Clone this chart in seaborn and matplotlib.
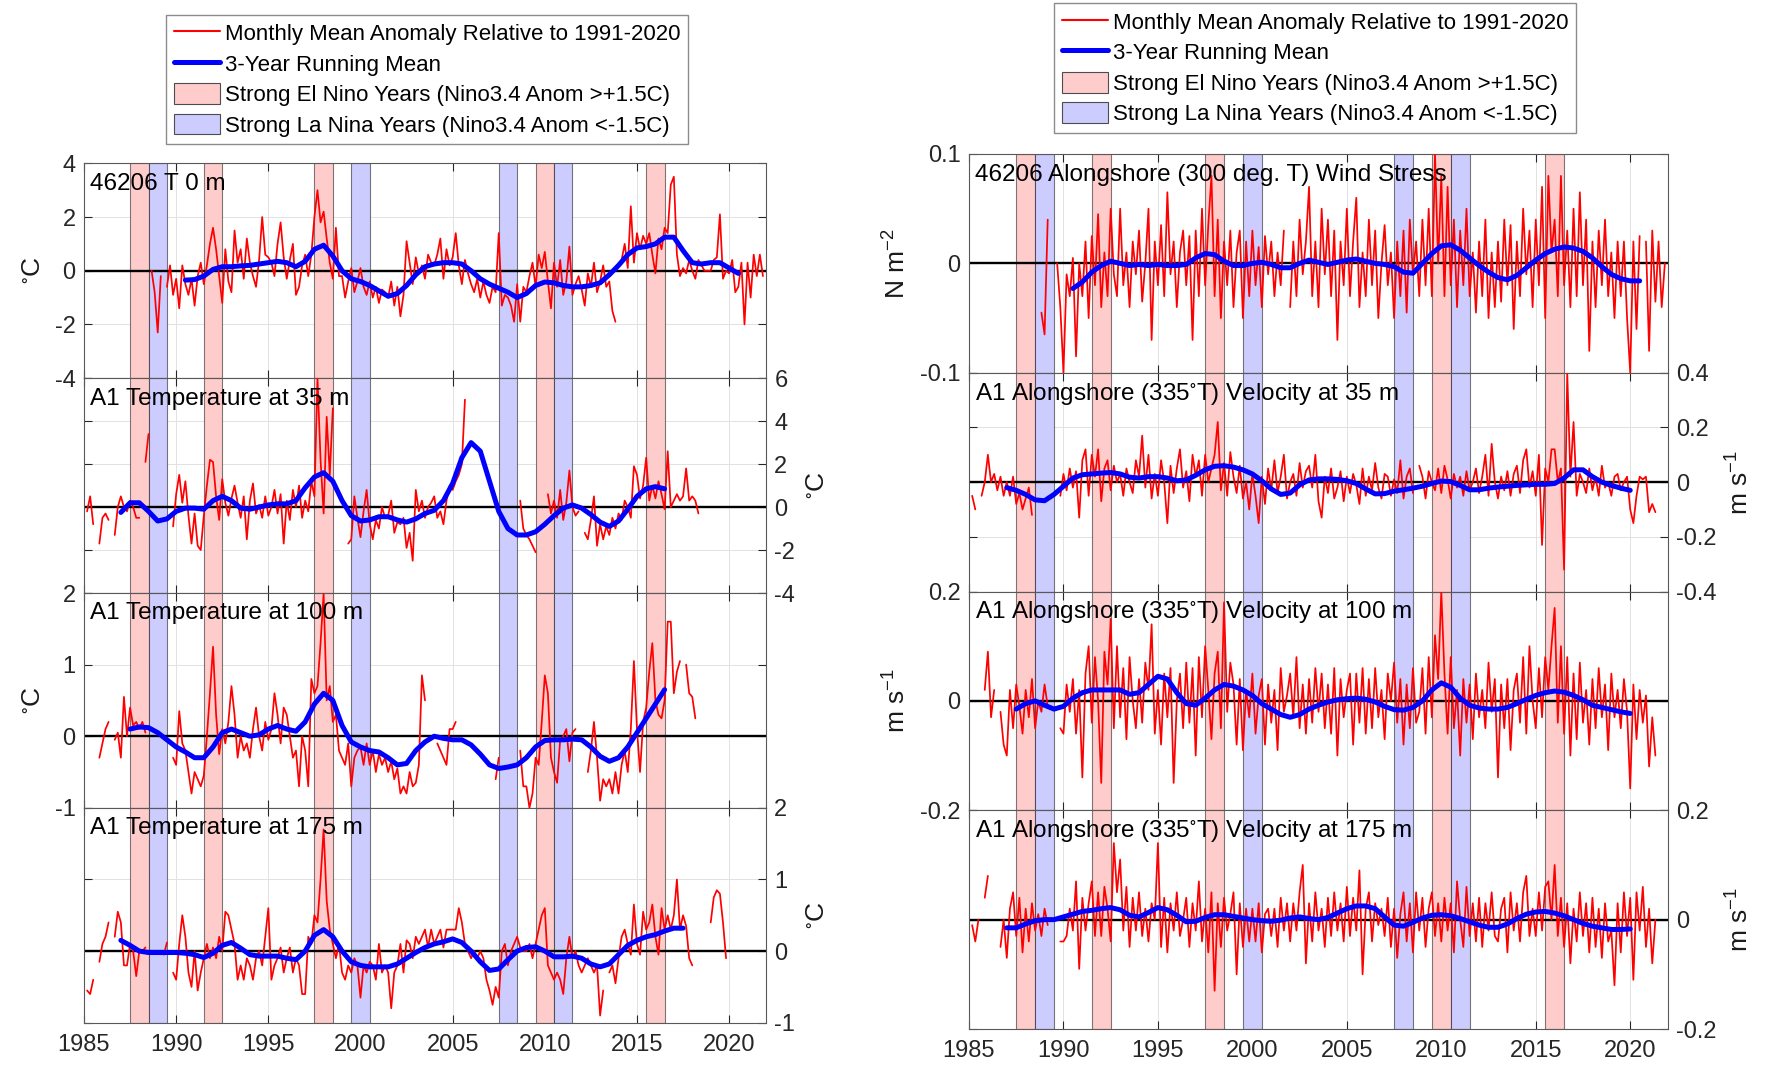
import numpy as np
import matplotlib
matplotlib.use("Agg")
import matplotlib.pyplot as plt
from matplotlib.lines import Line2D
from matplotlib.patches import Patch
import seaborn as sns

N = np.nan

# strong ENSO years (decimal year spans)
el_nino = [(1987.5, 1988.5), (1991.5, 1992.5), (1997.5, 1998.5), (2009.5, 2010.5), (2015.5, 2016.5)]
la_nina = [(1988.5, 1989.5), (1999.5, 2000.5), (2007.5, 2008.5), (2010.5, 2011.5)]

t0_red = [
    [N, N, N, N, N, N], [N, N, N, N, N, N], [N, N, N, N, N, N],
    [N, N, N, N, 0.0, -0.8],
    [-2.3, -0.2, N, -0.6, 0.2, -0.9],
    [-0.3, -1.4, 0.2, -0.5, -0.9, -0.3],
    [-1.3, -0.2, 0.3, -0.5, 0.2, 1.0],
    [1.6, 0.8, -0.2, -1.2, 0.8, -0.4],
    [-0.8, 1.5, 0.3, 0.8, -0.3, 1.2],
    [0.3, -0.2, -0.6, 0.4, 2.0, 0.6],
    [0.5, 0.3, -0.2, 1.0, 1.8, 0.5],
    [-0.3, 0.4, 1.0, -0.9, -0.6, 0.2],
    [0.6, -0.2, 0.6, 2.0, 3.0, 1.8],
    [2.2, 1.2, 0.3, -0.3, 1.6, -0.2],
    [-0.2, -1.0, -0.4, 0.1, -0.8, -0.4],
    [0.1, -0.6, -0.9, -0.4, -1.0, -0.6],
    [-1.2, -0.7, -0.8, -1.0, -0.4, -1.3],
    [-0.6, -1.7, -0.9, 1.1, 0.3, -0.5],
    [0.5, -0.1, 0.2, -0.3, 0.6, 0.3],
    [0.2, 0.6, 1.2, -0.3, 0.8, 0.2],
    [0.5, 1.4, 0.2, -0.5, 0.4, -0.1],
    [-0.5, -0.8, -0.3, -1.0, -0.4, -0.9],
    [-1.2, -0.6, -0.8, 1.4, -1.3, -0.9],
    [-1.0, -1.3, -1.9, -0.5, -1.9, -0.6],
    [-0.8, -0.2, 0.3, -0.6, 0.6, 0.1],
    [0.7, -0.4, -1.4, 0.3, -0.6, 0.4],
    [-0.9, -0.4, 0.9, -0.9, -0.5, -0.2],
    [-0.7, -1.3, -0.1, -0.6, 0.3, -0.8],
    [-0.4, 0.2, -0.6, -0.4, -1.5, -1.9],
    [N, 0.4, 1.0, 0.1, 2.4, 0.3],
    [1.4, 0.8, 1.3, 1.0, 1.4, 0.6],
    [-0.1, 1.2, 0.8, 1.6, 1.4, 3.2],
    [3.5, 0.6, -0.2, 0.1, -0.1, 0.4],
    [0.0, -0.3, 0.4, 0.2, 0.0, 0.0],
    [0.0, 0.4, 0.5, 2.1, -0.3, 0.0],
    [-0.1, 0.4, -0.8, -0.6, 0.3, -2.0],
    [0.3, -1.0, 0.6, -0.2, 0.6, -0.2],
]
t0_blue = [-0.35, -0.33, -0.2, 0.05, 0.15, 0.15, 0.18, 0.2, 0.25, 0.3, 0.35, 0.3, 0.15,
           0.35, 0.8, 0.95, 0.55, 0.0, -0.3, -0.4, -0.55, -0.75, -0.95, -0.85, -0.55,
           -0.15, 0.15, 0.25, 0.3, 0.3, 0.25, 0.0, -0.3, -0.5, -0.65, -0.8, -1.0, -0.85,
           -0.55, -0.42, -0.45, -0.55, -0.6, -0.6, -0.55, -0.45, -0.15, 0.2, 0.6, 0.85,
           0.9, 1.0, 1.25, 1.25, 0.75, 0.3, 0.25, 0.3, 0.3, 0.1, -0.1]

t35_red = [
    [N, -0.2, 0.5, -0.8, N, -1.7],
    [-0.5, -0.3, -0.6, N, -1.3, 0.0],
    [0.5, 0.0, -0.2, 0.3, 0.0, -0.5],
    [-0.5, N, 2.1, 3.4, N, N],
    [N, N, N, N, N, -0.9],
    [0.6, 1.5, 0.2, 1.2, -0.4, -1.7],
    [-0.3, -1.8, -2.0, -0.4, 1.0, 2.2],
    [2.1, 0.5, -0.6, 1.3, 0.2, -0.4],
    [0.4, 1.0, 0.2, -0.5, 0.5, -1.5],
    [0.3, 1.1, -0.3, 0.1, -0.5, 0.5],
    [-0.4, 0.0, 0.8, -0.3, 0.6, -1.7],
    [0.3, -0.6, 0.8, 0.0, 1.0, -0.5],
    [0.3, -0.2, 1.2, 0.5, 6.0, 2.2],
    [-0.3, 4.2, 1.5, 4.6, N, N],
    [N, N, -1.7, -1.5, 0.5, -0.5],
    [-1.4, -0.2, 0.8, -0.8, -1.5, -0.6],
    [-1.0, 0.0, -0.5, -0.4, 0.3, -1.2],
    [-0.7, -0.8, -0.5, -1.9, -1.2, -2.5],
    [0.8, -0.2, 0.3, -0.5, 0.0, 0.2],
    [0.5, -0.5, -0.2, -0.8, 0.3, 1.0],
    [0.8, 1.2, 1.5, 2.0, 5.0, N],
    [N, N, N, N, N, N], [N, N, N, N, N, N],
    [N, N, N, N, 0.3, -1.0],
    [-1.3, -1.5, -1.8, -2.1, N, N],
    [N, 0.6, -0.3, 0.3, -0.5, 0.8],
    [-0.6, 0.2, 1.7, 0.0, -0.4, -0.2],
    [N, -1.2, -1.5, -0.6, 0.5, -1.8],
    [-0.8, -1.5, -0.9, -1.3, -0.5, -1.0],
    [-0.3, -0.6, 0.3, 0.0, -0.5, 1.9],
    [1.5, 0.4, 1.0, 2.3, 0.3, 1.0],
    [0.4, 1.2, 0.6, -0.1, 2.6, 0.0],
    [0.3, 0.6, 0.3, 0.5, 1.8, 0.3],
    [0.5, 0.3, -0.3, N, N, N],
    [N, N, N, N, N, N], [N, N, N, N, N, N], [N, N, N, N, N, N],
]
t35_blue = [-0.25, 0.2, 0.2, -0.2, -0.65, -0.55, -0.2, -0.05, -0.05, -0.1, 0.3, 0.5, 0.3,
            -0.05, -0.1, 0.0, 0.1, 0.15, 0.15, 0.3, 0.9, 1.4, 1.6, 1.2, 0.3, -0.4, -0.65,
            -0.6, -0.45, -0.45, -0.6, -0.7, -0.55, -0.3, -0.15, 0.3, 1.1, 2.3, 3.0, 2.6,
            1.2, -0.2, -1.0, -1.3, -1.3, -1.15, -0.8, -0.4, -0.05, 0.1, -0.05, -0.35, -0.7,
            -0.9, -0.65, -0.1, 0.5, 0.85, 0.95, 0.85]

t100_red = [
    [N, N, N, N, N, -0.3],
    [-0.1, 0.1, 0.2, N, -0.05, 0.05],
    [-0.3, 0.55, 0.0, 0.4, 0.15, 0.2],
    [0.1, 0.2, 0.05, N, N, N],
    [N, N, N, N, N, -0.3],
    [-0.4, 0.35, -0.1, -0.2, -0.5, -0.8],
    [-0.5, -0.6, -0.7, -0.55, 0.0, 0.6],
    [1.25, 0.3, -0.25, 0.1, -0.1, 0.2],
    [0.7, 0.3, -0.3, 0.0, -0.2, -0.1],
    [-0.3, 0.1, 0.4, 0.0, -0.2, 0.2],
    [-0.05, 0.1, 0.6, 0.3, -0.1, 0.4],
    [0.3, 0.0, -0.3, -0.2, -0.7, 0.0],
    [-0.2, -0.7, 0.8, 0.6, 0.7, 1.3],
    [2.0, 0.5, 0.7, 0.2, 0.3, -0.2],
    [-0.3, -0.4, -0.1, -0.7, -0.3, -0.2],
    [-0.15, -0.4, -0.1, -0.4, -0.2, -0.5],
    [-0.25, -0.4, -0.3, -0.5, -0.35, -0.6],
    [-0.45, -0.8, -0.7, -0.8, -0.5, -0.7],
    [-0.65, -0.4, 0.85, 0.5, N, N],
    [N, -0.1, -0.2, -0.3, -0.4, 0.1],
    [0.1, 0.2, N, N, N, N],
    [N, N, N, N, N, N],
    [N, N, -0.6, -0.3, N, N],
    [N, N, N, N, -0.2, -0.7],
    [-0.7, -1.0, -0.8, -0.3, -0.4, 0.2],
    [0.85, 0.6, -0.3, -0.5, -0.65, -0.05],
    [0.0, 0.1, -0.35, 0.05, 0.1, N],
    [N, N, -0.5, -0.2, 0.2, -0.3],
    [-0.9, -0.6, -0.7, -0.6, -0.8, -0.5],
    [-0.8, -0.4, -0.2, -0.5, 0.1, 1.05],
    [0.1, -0.5, 0.2, 0.4, 0.9, 1.3],
    [0.5, 0.3, 0.25, 0.5, 1.6, 1.6],
    [0.6, 0.9, 1.05, N, 1.0, 0.6],
    [0.55, 0.25, N, N, N, N],
    [N, N, N, N, N, N], [N, N, N, N, N, N], [N, N, N, N, N, N],
]
t100_blue = [0.1, 0.13, 0.12, 0.05, -0.05, -0.15, -0.22, -0.3, -0.3, -0.15, 0.05, 0.1, 0.05,
             0.0, 0.02, 0.1, 0.15, 0.1, 0.07, 0.2, 0.45, 0.6, 0.5, 0.15, -0.08, -0.15, -0.2,
             -0.22, -0.3, -0.4, -0.38, -0.2, -0.08, 0.0, -0.03, -0.05, -0.05, -0.12, -0.25,
             -0.4, -0.45, -0.43, -0.4, -0.3, -0.15, -0.06, -0.05, -0.05, -0.04, -0.05, -0.15,
             -0.28, -0.35, -0.3, -0.15, 0.05, 0.25, 0.45, 0.65]

t175_red = [
    [N, -0.55, -0.6, -0.4, N, -0.15],
    [0.1, 0.2, 0.4, N, 0.2, 0.55],
    [0.4, -0.2, -0.2, 0.1, 0.0, -0.35],
    [0.0, 0.0, 0.05, N, N, N],
    [N, N, -0.05, 0.12, N, -0.3],
    [-0.4, 0.1, 0.5, 0.2, -0.3, -0.5],
    [0.0, -0.55, -0.3, -0.1, 0.1, -0.1],
    [0.05, -0.1, 0.2, 0.0, 0.55, 0.5],
    [0.3, 0.1, -0.4, -0.2, -0.4, -0.1],
    [-0.2, -0.4, -0.1, 0.0, -0.2, 0.2],
    [0.6, -0.4, -0.2, -0.1, 0.05, -0.3],
    [-0.1, 0.05, -0.3, -0.1, -0.2, -0.6],
    [-0.6, 0.2, 0.1, 0.5, 0.4, 1.0],
    [1.7, 0.7, 0.3, 0.1, -0.1, 0.1],
    [-0.3, -0.4, -0.2, -0.3, -0.1, -0.2],
    [-0.65, -0.2, -0.3, -0.15, -0.2, -0.4],
    [0.1, -0.3, -0.2, -0.3, -0.8, -0.3],
    [-0.2, 0.1, -0.3, 0.15, 0.1, -0.1],
    [0.2, 0.1, 0.2, 0.3, 0.05, 0.3],
    [0.1, 0.2, 0.3, 0.05, 0.3, 0.3],
    [0.3, 0.3, 0.6, 0.4, 0.1, 0.0],
    [-0.1, 0.0, -0.1, 0.0, -0.1, -0.4],
    [-0.55, -0.75, -0.5, -0.65, 0.0, 0.1],
    [-0.2, 0.0, 0.1, 0.2, 0.05, 0.0],
    [0.0, 0.1, -0.1, 0.1, 0.3, 0.5],
    [0.6, -0.2, -0.3, -0.4, -0.3, -0.4],
    [-0.6, -0.1, 0.2, -0.1, 0.0, -0.2],
    [-0.3, -0.2, -0.1, -0.2, -0.3, -0.2],
    [-0.9, -0.55, N, -0.3, -0.2, -0.45],
    [-0.1, 0.2, 0.3, 0.1, -0.05, 0.65],
    [0.1, -0.05, 0.55, 0.3, 0.4, 0.65],
    [0.2, -0.05, 0.6, 0.3, 0.5, 0.3],
    [0.5, 1.0, 0.3, 0.5, 0.35, -0.1],
    [-0.2, N, N, N, N, N],
    [0.4, 0.75, 0.85, 0.8, 0.4, -0.1],
    [N, N, N, N, N, N], [N, N, N, N, N, N],
]
t175_blue = [0.15, 0.08, 0.0, -0.02, -0.02, -0.02, -0.02, -0.03, -0.05, -0.09, -0.03, 0.08,
             0.12, 0.04, -0.05, -0.07, -0.07, -0.07, -0.1, -0.12, 0.0, 0.22, 0.3, 0.2, 0.0,
             -0.15, -0.2, -0.22, -0.22, -0.22, -0.18, -0.1, -0.02, 0.05, 0.1, 0.13, 0.17,
             0.12, 0.0, -0.15, -0.27, -0.25, -0.12, 0.0, 0.05, 0.06, 0.0, -0.08, -0.08, -0.07,
             -0.1, -0.18, -0.22, -0.18, -0.05, 0.08, 0.15, 0.2, 0.23, 0.28, 0.32, 0.32]

tau_red = [
    [N, N, N, N, N, N], [N, N, N, N, N, N], [N, N, N, N, N, N],
    [N, N, N, N, N, -0.045],
    [-0.065, 0.04, N, N, 0.0, -0.04],
    [-0.1, -0.01, -0.03, 0.005, -0.085, 0.0],
    [-0.03, 0.02, -0.05, 0.025, -0.02, 0.045],
    [-0.04, 0.01, -0.03, 0.05, -0.01, -0.03],
    [0.05, -0.02, 0.01, -0.04, 0.02, -0.01],
    [0.03, -0.035, 0.0, 0.05, -0.07, 0.02],
    [-0.02, 0.035, -0.03, 0.065, -0.01, 0.02],
    [-0.04, 0.01, 0.03, -0.02, 0.025, -0.07],
    [0.03, -0.03, 0.05, -0.02, 0.035, 0.08],
    [-0.03, 0.04, -0.05, 0.02, -0.02, 0.03],
    [-0.04, 0.01, 0.03, -0.05, 0.02, -0.03],
    [0.03, -0.02, 0.015, -0.04, 0.025, -0.01],
    [0.02, -0.03, 0.01, -0.02, 0.03, N],
    [-0.04, 0.02, -0.03, 0.04, -0.01, 0.02],
    [0.07, -0.03, 0.02, -0.04, 0.05, -0.01],
    [0.04, -0.03, 0.03, -0.07, 0.02, -0.02],
    [0.05, -0.03, 0.02, 0.06, -0.04, 0.01],
    [-0.03, 0.04, -0.02, 0.03, -0.05, 0.0],
    [0.035, -0.02, 0.01, -0.05, 0.02, -0.03],
    [0.03, -0.045, 0.04, -0.01, 0.02, -0.03],
    [0.04, -0.02, 0.05, -0.03, 0.1, 0.0],
    [0.08, -0.03, 0.07, -0.02, 0.04, -0.04],
    [0.03, -0.02, 0.05, -0.03, 0.01, -0.045],
    [0.02, -0.03, 0.04, -0.05, 0.01, -0.04],
    [0.02, -0.035, 0.04, -0.02, 0.035, -0.06],
    [0.02, -0.03, 0.05, -0.01, 0.03, -0.04],
    [0.04, -0.02, 0.07, -0.05, 0.08, 0.01],
    [0.04, -0.03, 0.08, -0.02, 0.03, -0.04],
    [0.05, -0.03, 0.065, -0.02, 0.04, -0.08],
    [0.02, -0.04, 0.03, -0.02, 0.04, -0.03],
    [0.01, -0.05, 0.02, -0.03, 0.02, -0.05],
    [-0.1, 0.02, -0.06, 0.025, N, 0.02],
    [-0.08, 0.03, -0.035, 0.02, -0.04, 0.0],
]
tau_blue = [-0.023, -0.017, -0.008, -0.002, 0.002, 0.0, -0.002, -0.001, -0.002, -0.001, -0.002,
            -0.002, -0.001, 0.005, 0.009, 0.008, 0.002, -0.002, -0.002, 0.0, 0.001, -0.001,
            -0.004, -0.004, 0.0, 0.003, 0.001, -0.001, 0.001, 0.003, 0.004, 0.002, 0.0, -0.001,
            -0.003, -0.008, -0.009, 0.0, 0.009, 0.016, 0.017, 0.012, 0.005, -0.002, -0.008,
            -0.013, -0.015, -0.011, -0.004, 0.003, 0.009, 0.013, 0.015, 0.014, 0.011, 0.005,
            -0.003, -0.01, -0.014, -0.016, -0.016]

v35_red = [
    [N, -0.05, -0.1, N, -0.05, 0.0],
    [0.1, 0.0, 0.03, -0.03, 0.02, -0.05],
    [0.0, -0.05, 0.02, -0.08, -0.04, -0.1],
    [-0.06, -0.02, -0.12, N, N, N],
    [N, N, N, N, N, -0.05],
    [0.03, -0.03, 0.05, -0.02, 0.04, -0.13],
    [0.08, 0.12, -0.05, 0.1, 0.02, 0.12],
    [-0.07, 0.05, 0.08, -0.03, 0.06, 0.0],
    [0.03, -0.05, 0.05, 0.0, -0.04, 0.08],
    [0.02, 0.17, -0.02, 0.1, -0.06, 0.03],
    [-0.05, 0.08, 0.0, -0.15, 0.06, -0.04],
    [0.05, 0.12, -0.02, 0.04, -0.07, 0.1],
    [0.02, 0.08, -0.05, 0.1, 0.0, 0.05],
    [0.1, 0.22, -0.03, 0.07, -0.05, 0.11],
    [0.02, -0.04, 0.06, -0.06, 0.0, -0.1],
    [0.03, -0.05, -0.15, 0.02, -0.08, 0.05],
    [-0.03, 0.08, -0.04, 0.02, 0.1, -0.06],
    [0.0, 0.03, -0.05, 0.07, -0.02, 0.04],
    [0.06, -0.02, 0.1, -0.07, -0.13, 0.02],
    [-0.04, 0.05, -0.06, -0.02, 0.04, -0.07],
    [0.02, -0.04, 0.03, -0.01, -0.08, 0.05],
    [-0.05, 0.02, -0.03, 0.07, -0.02, -0.06],
    [0.03, 0.02, -0.05, 0.01, -0.04, 0.08],
    [-0.06, 0.02, 0.05, -0.04, N, 0.06],
    [0.02, -0.06, 0.04, 0.0, -0.03, 0.05],
    [-0.04, 0.06, 0.01, -0.06, 0.03, -0.02],
    [0.02, -0.05, 0.04, -0.03, 0.0, 0.05],
    [-0.04, 0.02, 0.1, -0.05, 0.14, 0.0],
    [-0.06, 0.02, -0.03, 0.04, -0.05, 0.03],
    [0.06, -0.04, 0.08, 0.12, -0.02, 0.04],
    [-0.05, 0.1, -0.23, 0.05, 0.0, 0.12],
    [0.12, 0.0, 0.05, -0.32, 0.4, 0.02],
    [0.22, -0.05, 0.03, 0.0, -0.04, 0.05],
    [-0.03, 0.02, -0.05, 0.06, -0.02, 0.0],
    [-0.05, 0.02, 0.03, -0.03, 0.0, 0.02],
    [-0.1, -0.15, -0.05, 0.02, 0.01, 0.02],
    [-0.11, -0.08, -0.11, N, N, N],
]
v35_blue = [-0.02, -0.03, -0.045, -0.065, -0.068, -0.045, -0.015, 0.015, 0.027, 0.03, 0.033,
            0.035, 0.03, 0.018, 0.015, 0.02, 0.02, 0.015, 0.005, 0.008, 0.025, 0.045, 0.058,
            0.06, 0.055, 0.045, 0.03, 0.005, -0.025, -0.045, -0.04, -0.01, 0.008, 0.012, 0.012,
            0.01, 0.005, -0.005, -0.025, -0.043, -0.042, -0.033, -0.028, -0.022, -0.015,
            -0.005, 0.004, 0.002, -0.012, -0.028, -0.028, -0.022, -0.018, -0.015, -0.012,
            -0.01, -0.008, -0.008, -0.005, 0.015, 0.045, 0.045, 0.02, 0.0, -0.012, -0.022, -0.03]

v100_red = [
    [N, N, N, N, N, 0.02],
    [0.09, -0.03, 0.02, N, -0.02, -0.08],
    [-0.1, 0.02, -0.05, 0.03, -0.01, -0.06],
    [0.02, -0.03, 0.04, -0.05, 0.0, -0.02],
    [0.03, -0.01, N, N, N, -0.05],
    [-0.06, 0.03, -0.02, 0.04, -0.06, 0.02],
    [-0.14, 0.05, 0.1, -0.04, 0.08, 0.0],
    [-0.15, 0.09, 0.03, 0.15, -0.05, 0.1],
    [-0.03, 0.06, -0.07, 0.08, 0.0, -0.05],
    [0.04, -0.04, 0.07, 0.02, 0.14, -0.06],
    [0.02, -0.08, 0.05, -0.03, 0.06, -0.15],
    [0.0, 0.05, -0.05, 0.07, -0.04, 0.06],
    [-0.1, 0.08, -0.03, 0.1, 0.02, -0.07],
    [0.05, 0.09, -0.05, 0.18, -0.02, 0.07],
    [0.03, -0.08, 0.04, -0.09, 0.02, -0.03],
    [0.05, -0.06, 0.01, 0.04, -0.08, 0.03],
    [-0.04, 0.02, -0.09, 0.06, -0.02, 0.01],
    [0.05, -0.03, 0.08, -0.05, 0.03, -0.06],
    [0.04, -0.04, 0.06, -0.02, 0.05, -0.05],
    [0.03, -0.06, 0.06, -0.1, 0.04, -0.03],
    [0.02, 0.05, -0.08, 0.05, -0.04, 0.06],
    [-0.06, 0.04, -0.05, 0.06, -0.03, 0.02],
    [-0.07, 0.05, 0.0, 0.07, -0.04, 0.04],
    [-0.08, 0.03, -0.05, 0.06, -0.04, -0.02],
    [0.06, -0.06, 0.08, -0.03, 0.12, 0.04],
    [0.2, 0.05, -0.06, 0.08, -0.05, 0.02],
    [-0.1, 0.04, -0.04, 0.03, -0.07, 0.05],
    [-0.03, 0.02, -0.05, 0.07, -0.02, 0.04],
    [-0.14, 0.03, -0.05, 0.04, -0.09, 0.02],
    [0.05, -0.04, 0.08, -0.06, 0.1, 0.0],
    [-0.05, 0.06, -0.03, 0.08, 0.02, 0.1],
    [0.17, -0.04, 0.1, -0.06, 0.08, -0.1],
    [0.05, -0.07, 0.07, -0.04, 0.02, -0.08],
    [0.04, -0.05, 0.06, -0.03, 0.03, -0.09],
    [0.05, -0.03, 0.02, -0.05, 0.04, -0.02],
    [-0.16, 0.03, -0.07, 0.02, -0.04, 0.01],
    [-0.12, -0.03, -0.1, N, N, N],
]
v100_blue = [-0.015, -0.005, 0.0, -0.008, -0.015, -0.01, 0.005, 0.015, 0.02, 0.02, 0.02, 0.02,
             0.012, 0.015, 0.03, 0.045, 0.04, 0.015, -0.005, -0.008, 0.005, 0.02, 0.03, 0.027,
             0.02, 0.01, -0.005, -0.015, -0.025, -0.03, -0.025, -0.015, -0.008, -0.002, 0.002,
             0.004, 0.005, 0.003, -0.002, -0.01, -0.016, -0.017, -0.012, 0.0, 0.02, 0.033,
             0.025, 0.005, -0.008, -0.013, -0.015, -0.015, -0.012, -0.005, 0.003, 0.01, 0.015,
             0.018, 0.016, 0.01, 0.002, -0.008, -0.012, -0.016, -0.02, -0.023]

v175_red = [
    [N, -0.01, -0.04, 0.0, N, 0.04],
    [0.08, N, -0.02, N, -0.05, 0.0],
    [-0.07, 0.02, 0.05, -0.03, 0.04, -0.06],
    [0.02, -0.04, 0.03, -0.02, 0.01, -0.03],
    [0.02, -0.01, N, N, N, -0.04],
    [-0.04, -0.03, 0.02, -0.02, 0.07, -0.09],
    [0.04, -0.02, 0.03, 0.07, -0.03, 0.05],
    [-0.03, 0.06, 0.02, -0.04, 0.14, 0.05],
    [0.11, -0.02, 0.06, -0.05, 0.04, -0.02],
    [0.05, -0.03, 0.02, -0.04, 0.03, 0.0],
    [0.14, -0.05, 0.04, -0.06, 0.03, -0.02],
    [0.05, -0.03, 0.0, 0.04, -0.05, 0.03],
    [-0.02, 0.07, -0.04, 0.02, -0.06, 0.05],
    [-0.13, 0.03, -0.05, 0.04, -0.02, 0.01],
    [0.05, -0.1, 0.03, -0.05, 0.02, -0.04],
    [0.02, -0.04, 0.03, -0.06, 0.01, 0.02],
    [-0.03, 0.02, -0.05, 0.04, -0.02, 0.03],
    [-0.04, 0.03, -0.02, 0.05, 0.1, -0.08],
    [0.03, -0.04, 0.05, -0.02, 0.02, -0.05],
    [0.04, -0.03, 0.05, -0.02, 0.03, -0.04],
    [0.06, -0.03, 0.04, -0.02, 0.09, -0.1],
    [0.02, 0.05, -0.04, 0.03, -0.01, 0.02],
    [-0.03, 0.04, -0.05, 0.02, -0.07, 0.01],
    [0.05, -0.04, 0.03, -0.06, 0.05, -0.02],
    [0.04, -0.05, 0.02, 0.05, -0.03, 0.03],
    [-0.04, 0.04, -0.02, 0.03, -0.06, 0.07],
    [0.0, -0.05, 0.06, -0.03, 0.03, -0.04],
    [0.04, -0.05, 0.03, -0.02, 0.05, -0.03],
    [-0.04, 0.02, 0.04, -0.06, 0.05, -0.02],
    [0.03, -0.04, 0.05, 0.08, -0.03, 0.02],
    [-0.03, 0.05, -0.02, 0.06, 0.07, 0.0],
    [0.1, -0.03, 0.04, -0.05, 0.03, -0.08],
    [0.02, -0.04, 0.05, -0.03, 0.03, -0.06],
    [0.04, -0.05, 0.02, -0.07, 0.03, -0.04],
    [-0.02, -0.12, 0.03, -0.06, 0.05, -0.03],
    [0.04, -0.11, 0.05, -0.02, 0.06, -0.05],
    [0.02, -0.08, 0.0, N, N, N],
]
v175_blue = [-0.015, -0.015, -0.008, -0.002, 0.0, 0.0, 0.005, 0.01, 0.015, 0.017, 0.02, 0.022,
             0.018, 0.008, 0.005, 0.013, 0.022, 0.018, 0.008, -0.004, -0.003, 0.004, 0.009,
             0.009, 0.006, 0.003, 0.0, -0.002, -0.003, -0.001, 0.003, 0.005, 0.002, 0.0, 0.004,
             0.012, 0.02, 0.025, 0.025, 0.02, 0.005, -0.01, -0.012, -0.005, 0.003, 0.008, 0.009,
             0.007, 0.002, -0.004, -0.01, -0.014, -0.014, -0.008, 0.002, 0.01, 0.014, 0.015,
             0.012, 0.007, 0.0, -0.007, -0.012, -0.015, -0.018, -0.018, -0.017]

# panel labels
left_titles = ["46206 T 0 m", "A1 Temperature at 35 m", "A1 Temperature at 100 m",
               "A1 Temperature at 175 m"]
right_titles = ["46206 Alongshore (300 deg. T) Wind Stress",
                "A1 Alongshore (335$^{\\circ}$T) Velocity at 35 m",
                "A1 Alongshore (335$^{\\circ}$T) Velocity at 100 m",
                "A1 Alongshore (335$^{\\circ}$T) Velocity at 175 m"]
legend_labels = ["Monthly Mean Anomaly Relative to 1991-2020", "3-Year Running Mean",
                 "Strong El Nino Years (Nino3.4 Anom >+1.5C)",
                 "Strong La Nina Years (Nino3.4 Anom <-1.5C)"]

sns.set_style("white")
plt.rcParams["font.family"] = ["Liberation Sans", "DejaVu Sans"]
plt.rcParams["mathtext.fontset"] = "custom"
plt.rcParams["mathtext.rm"] = "Liberation Sans"
plt.rcParams["mathtext.default"] = "regular"
plt.rcParams["axes.unicode_minus"] = False
plt.rcParams["text.color"] = "black"
plt.rcParams["axes.labelcolor"] = "0.1"
plt.rcParams["xtick.color"] = "0.15"
plt.rcParams["ytick.color"] = "0.15"

RED = "#ff0000"
BLUE = "#0000ff"
NINO = "#ffcccc"
NINA = "#ccccff"


def draw_panel(ax, red, blue_x0, blue, ylim, yticks, title, ylabel, right_side, bottom):
    for a, b in el_nino:
        ax.axvspan(a, b, facecolor=NINO, edgecolor=(0, 0, 0, 0.5), lw=0.8, zorder=1)
    for a, b in la_nina:
        ax.axvspan(a, b, facecolor=NINA, edgecolor=(0, 0, 0, 0.5), lw=0.8, zorder=1)
    ax.axhline(0, color="k", lw=1.7, zorder=2.5)
    v = np.array(red, dtype=float).ravel()
    x = 1985 + np.arange(v.size) / 6.0
    ax.plot(x, v, color=RED, lw=1.25, zorder=3)
    bx = blue_x0 + 0.5 * np.arange(len(blue))
    sns.lineplot(x=bx, y=np.array(blue), ax=ax, color=BLUE, linewidth=3.6, sort=False, zorder=4)

    ax.set_xlim(1985, 2022)
    ax.set_ylim(*ylim)
    ax.set_xticks(np.arange(1985, 2021, 5))
    ax.set_yticks(yticks, labels=["{:g}".format(t) for t in yticks])
    ax.grid(True, color="#e2e2e2", lw=0.7)
    ax.set_axisbelow(True)
    for s in ax.spines.values():
        s.set_color("0.35")
        s.set_linewidth(0.8)
    ax.tick_params(direction="in", length=6, width=0.8, labelsize=17,
                   top=True, bottom=True, left=True, right=True,
                   labelbottom=bottom, labelleft=not right_side, labelright=right_side)
    ax.tick_params(axis="y", pad=6)
    ax.tick_params(axis="x", pad=8)
    if right_side:
        ax.yaxis.set_label_position("right")
    ax.set_ylabel(ylabel, fontsize=19, labelpad=7)
    ax.set_xlabel("")
    ax.text(0.009, 0.905, title, transform=ax.transAxes, fontsize=17.5, va="center",
            ha="left", zorder=6)


fig = plt.figure(figsize=(17.67, 10.67), dpi=100)
W, H = 1767.0, 1067.0

left_series = [(t0_red, 1990.5, t0_blue, (-4, 4), [-4, -2, 0, 2, 4]),
               (t35_red, 1987.0, t35_blue, (-4, 6), [-4, -2, 0, 2, 4, 6]),
               (t100_red, 1987.5, t100_blue, (-1, 2), [-1, 0, 1, 2]),
               (t175_red, 1987.0, t175_blue, (-1, 2), [-1, 0, 1, 2])]
right_series = [(tau_red, 1990.5, tau_blue, (-0.1, 0.1), [-0.1, 0, 0.1]),
                (v35_red, 1987.0, v35_blue, (-0.4, 0.4), [-0.4, -0.2, 0, 0.2, 0.4]),
                (v100_red, 1987.5, v100_blue, (-0.2, 0.2), [-0.2, 0, 0.2]),
                (v175_red, 1987.0, v175_blue, (-0.2, 0.2), [-0.2, 0, 0.2])]
left_ylabels = ["$^{\\circ}$C"] * 4
right_ylabels = ["N m$^{-2}$", "m s$^{-1}$", "m s$^{-1}$", "m s$^{-1}$"]

# left column
lx0, lx1, ltop, lh = 84.0, 766.0, 163.3, 214.85
for i, (red, bx0, blue, ylim, yt) in enumerate(left_series):
    top = ltop + i * lh
    ax = fig.add_axes([lx0 / W, 1 - (top + lh) / H, (lx1 - lx0) / W, lh / H])
    draw_panel(ax, red, bx0, blue, ylim, yt, left_titles[i], left_ylabels[i],
               right_side=(i % 2 == 1), bottom=(i == 3))

# right column
rx0, rx1, rtop, rh = 969.0, 1668.0, 154.0, 218.75
for i, (red, bx0, blue, ylim, yt) in enumerate(right_series):
    top = rtop + i * rh
    ax = fig.add_axes([rx0 / W, 1 - (top + rh) / H, (rx1 - rx0) / W, rh / H])
    draw_panel(ax, red, bx0, blue, ylim, yt, right_titles[i], right_ylabels[i],
               right_side=(i % 2 == 1), bottom=(i == 3))

handles = [Line2D([], [], color=RED, lw=1.5),
           Line2D([], [], color=BLUE, lw=3.6),
           Patch(facecolor=NINO, edgecolor="0.3", lw=0.8),
           Patch(facecolor=NINA, edgecolor="0.3", lw=0.8)]
for lx, ly in [(166.0, 14.7), (1054.0, 3.3)]:
    leg = fig.legend(handles, legend_labels, loc="upper left",
                     bbox_to_anchor=(lx / W, 1 - ly / H), borderaxespad=0,
                     fontsize=16, handlelength=2.1, handleheight=1.05, handletextpad=0.2,
                     labelspacing=0.34, borderpad=0.35, fancybox=False, framealpha=1)
    leg.get_frame().set_edgecolor("0.55")
    leg.get_frame().set_linewidth(1.0)

fig.savefig("out.png", dpi=100)
